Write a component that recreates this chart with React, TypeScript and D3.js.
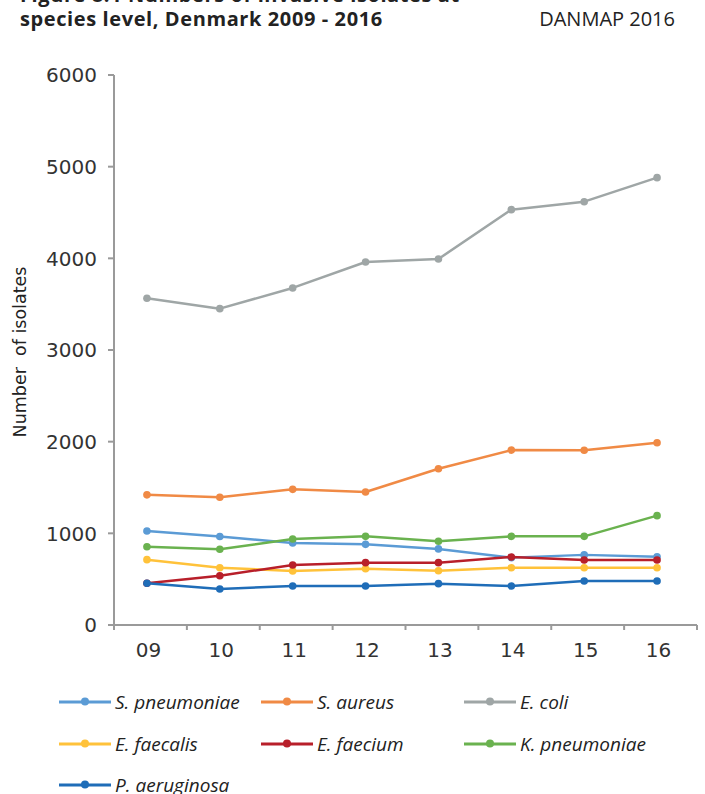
import React from "react";
import * as d3 from "d3";

const years = ["09", "10", "11", "12", "13", "14", "15", "16"];
const yTicks = [0, 1000, 2000, 3000, 4000, 5000, 6000];

const sPneumoniae = [1025, 965, 895, 880, 830, 735, 765, 745];
const sAureus = [1420, 1393, 1480, 1451, 1705, 1908, 1906, 1989];
const eColi = [3564, 3451, 3677, 3960, 3993, 4531, 4618, 4880];
const eFaecalis = [713, 625, 589, 614, 592, 625, 625, 625];
const eFaecium = [455, 538, 655, 680, 680, 742, 709, 709];
const kPneumoniae = [854, 826, 938, 967, 913, 967, 967, 1193];
const pAeruginosa = [455, 393, 425, 425, 451, 425, 480, 480];

const seriesNames = [
  "S. pneumoniae",
  "S. aureus",
  "E. coli",
  "E. faecalis",
  "E. faecium",
  "K. pneumoniae",
  "P. aeruginosa",
];
const seriesColors = [
  "#5b9bd5",
  "#f08a45",
  "#9fa6a6",
  "#ffc23a",
  "#b81f2a",
  "#6ab24f",
  "#1f6db8",
];
const seriesValues = [
  sPneumoniae,
  sAureus,
  eColi,
  eFaecalis,
  eFaecium,
  kPneumoniae,
  pAeruginosa,
];

const W = 705;
const H = 794;
const left = 114;
const right = 697;
const top = 75;
const bottom = 625;
const axisColor = "#9a9a9a";

export default function App() {
  const x = d3.scaleBand<string>().domain(years).range([left, right]);
  const y = d3.scaleLinear().domain([0, 6000]).range([bottom, top]);
  const px = (yr: string) => (x(yr) as number) + x.bandwidth() / 2 - 3.5;
  const line = d3
    .line<number>()
    .x((_, i) => px(years[i]))
    .y((v) => y(v));

  const legendCols = [59, 261, 464];
  const legendRows = [702, 744, 785];

  return (
    <svg
      width={W}
      height={H}
      style={{ position: "absolute", left: 0, top: 0, background: "#fff" }}
    >
      {/* Title */}
      <text
        x={20}
        y={2}
        fontFamily="Open Sans, sans-serif"
        fontWeight={700}
        fontSize={20}
        letterSpacing={0.6}
        fill="#222"
      >
        Figure 8.1 Numbers of invasive isolates at
      </text>
      <text
        x={20}
        y={26}
        fontFamily="Open Sans, sans-serif"
        fontWeight={700}
        fontSize={20}
        letterSpacing={0.6}
        fill="#222"
      >
        species level, Denmark 2009 - 2016
      </text>
      <text
        x={675}
        y={26}
        textAnchor="end"
        fontFamily="Open Sans, sans-serif"
        fontSize={20}
        fill="#222"
      >
        DANMAP 2016
      </text>

      {/* Y axis */}
      <line x1={left} x2={left} y1={top} y2={bottom} stroke={axisColor} strokeWidth={2} />
      {yTicks.map((t) => (
        <g key={t}>
          <line x1={left - 6} x2={left} y1={y(t)} y2={y(t)} stroke={axisColor} strokeWidth={2} />
          <text
            x={97}
            y={y(t)}
            dy="0.36em"
            textAnchor="end"
            fontFamily="DejaVu Sans, sans-serif"
            fontSize={20}
            fill="#333"
          >
            {t}
          </text>
        </g>
      ))}
      <text
        transform={`translate(26,352) rotate(-90)`}
        textAnchor="middle"
        fontFamily="DejaVu Sans, sans-serif"
        fontSize={17.5}
        fill="#222"
        style={{ whiteSpace: "pre" }}
      >
        {"Number  of isolates"}
      </text>

      {/* X axis */}
      <line x1={left - 6} x2={right} y1={bottom} y2={bottom} stroke={axisColor} strokeWidth={2} />
      {years.map((yr) => (
        <line
          key={"t" + yr}
          x1={(x(yr) as number) + x.bandwidth()}
          x2={(x(yr) as number) + x.bandwidth()}
          y1={bottom}
          y2={bottom + 5}
          stroke={axisColor}
          strokeWidth={2}
        />
      ))}
      <line x1={left} x2={left} y1={bottom} y2={bottom + 5} stroke={axisColor} strokeWidth={2} />
      {years.map((yr) => (
        <text
          key={"l" + yr}
          x={(x(yr) as number) + x.bandwidth() / 2 - 2}
          y={657}
          textAnchor="middle"
          fontFamily="DejaVu Sans, sans-serif"
          fontSize={20}
          fill="#333"
        >
          {yr}
        </text>
      ))}

      {/* Series */}
      {seriesValues.map((vals, si) => (
        <g key={seriesNames[si]}>
          <path
            d={line(vals) as string}
            fill="none"
            stroke={seriesColors[si]}
            strokeWidth={2.5}
            strokeLinejoin="round"
          />
          {vals.map((v, i) => (
            <circle key={i} cx={px(years[i])} cy={y(v)} r={3.8} fill={seriesColors[si]} />
          ))}
        </g>
      ))}

      {/* Legend */}
      {seriesNames.map((name, i) => {
        const lx = legendCols[i % 3];
        const ly = legendRows[Math.floor(i / 3)];
        return (
          <g key={"leg" + name}>
            <line x1={lx} x2={lx + 52} y1={ly} y2={ly} stroke={seriesColors[i]} strokeWidth={3} />
            <circle cx={lx + 26} cy={ly - 0.5} r={4} fill={seriesColors[i]} />
            <text
              x={lx + 56}
              y={ly}
              dy="0.36em"
              fontFamily="Open Sans, sans-serif"
              fontStyle="italic"
              fontSize={19}
              fill="#222"
            >
              {name}
            </text>
          </g>
        );
      })}
    </svg>
  );
}
